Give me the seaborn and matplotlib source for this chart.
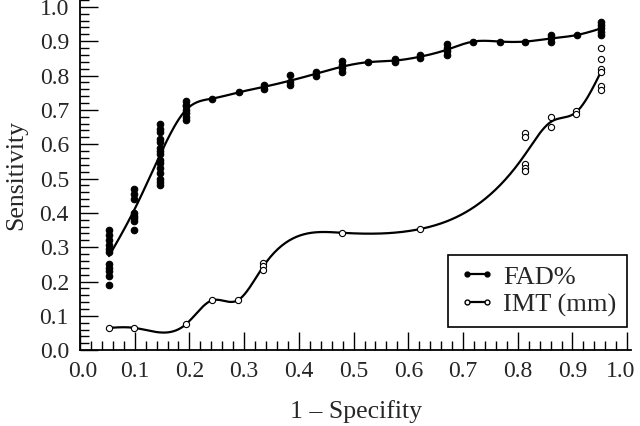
import numpy as np
import pandas as pd
import matplotlib
matplotlib.use('Agg')
import matplotlib.pyplot as plt
import matplotlib.transforms as mtransforms
from matplotlib.ticker import MultipleLocator
from matplotlib.lines import Line2D
import seaborn as sns

# ---- data ----
fad_x = [0.053] * 11 + [0.099] * 8 + [0.146] * 15 + [0.193] * 7 + [0.242, 0.290, 0.336, 0.336,
         0.384, 0.384, 0.384, 0.432, 0.432, 0.479, 0.479, 0.479, 0.479, 0.527, 0.575, 0.575,
         0.622, 0.622, 0.670, 0.670, 0.670, 0.670, 0.719, 0.767, 0.814, 0.861, 0.861, 0.861,
         0.908, 0.953, 0.953, 0.953, 0.953, 0.953]
fad_y = [0.350, 0.335, 0.320, 0.305, 0.295, 0.285, 0.250, 0.240, 0.230, 0.215, 0.190,
         0.470, 0.455, 0.440, 0.400, 0.390, 0.385, 0.375, 0.350,
         0.660, 0.645, 0.635, 0.615, 0.605, 0.590, 0.580, 0.570, 0.555, 0.545, 0.530, 0.515,
         0.500, 0.490, 0.480,
         0.725, 0.715, 0.710, 0.700, 0.690, 0.680, 0.670,
         0.733, 0.751, 0.773, 0.761, 0.802, 0.782, 0.771, 0.811, 0.800,
         0.841, 0.831, 0.821, 0.810, 0.839, 0.848, 0.839, 0.860, 0.850,
         0.891, 0.879, 0.870, 0.860, 0.899, 0.899, 0.899, 0.918, 0.909, 0.897,
         0.918, 0.957, 0.948, 0.937, 0.928, 0.918]

imt_x = [0.053, 0.099, 0.194, 0.241, 0.288, 0.335, 0.335, 0.335, 0.478, 0.622,
         0.813, 0.813, 0.813, 0.813, 0.813, 0.861, 0.861, 0.906, 0.906,
         0.953, 0.953, 0.953, 0.953, 0.953, 0.953]
imt_y = [0.065, 0.065, 0.076, 0.145, 0.145, 0.255, 0.245, 0.233, 0.342, 0.353,
         0.632, 0.620, 0.542, 0.532, 0.521, 0.680, 0.651, 0.697, 0.688,
         0.880, 0.847, 0.819, 0.810, 0.770, 0.758]

tick_vals = np.round(np.arange(0, 1.01, 0.1), 1)


def natural_spline(x, y, xs):
    # natural cubic spline through (x, y), evaluated at xs
    x = np.asarray(x, float); y = np.asarray(y, float)
    n = len(x)
    h = np.diff(x)
    A = np.zeros((n, n)); b = np.zeros(n)
    A[0, 0] = A[-1, -1] = 1
    for i in range(1, n - 1):
        A[i, i - 1] = h[i - 1]
        A[i, i] = 2 * (h[i - 1] + h[i])
        A[i, i + 1] = h[i]
        b[i] = 6 * ((y[i + 1] - y[i]) / h[i] - (y[i] - y[i - 1]) / h[i - 1])
    M = np.linalg.solve(A, b)
    idx = np.clip(np.searchsorted(x, xs) - 1, 0, n - 2)
    x0, x1 = x[idx], x[idx + 1]
    hh = x1 - x0
    t0, t1 = x1 - xs, xs - x0
    return (M[idx] * t0 ** 3 / (6 * hh) + M[idx + 1] * t1 ** 3 / (6 * hh)
            + (y[idx] / hh - M[idx] * hh / 6) * t0 + (y[idx + 1] / hh - M[idx + 1] * hh / 6) * t1)


fad = pd.DataFrame({'x': fad_x, 'y': fad_y})
imt = pd.DataFrame({'x': imt_x, 'y': imt_y})

sns.set_style('ticks')
plt.rcParams['font.family'] = ['Liberation Serif', 'DejaVu Serif']

fig = plt.figure(figsize=(6.4, 4.26), dpi=100)
ax = fig.add_axes([0.125, 0.178, 0.861, 0.822])

for df, face in [(fad, 'black'), (imt, 'white')]:
    m = df.groupby('x')['y'].mean()
    xs = np.linspace(m.index.min(), m.index.max(), 400)
    curve = pd.DataFrame({'x': xs, 'y': natural_spline(m.index.values, m.values, xs)})
    sns.lineplot(data=curve, x='x', y='y', ax=ax, color='black', lw=1.6, sort=False)
    sns.scatterplot(data=df, x='x', y='y', ax=ax, color=face, edgecolor='black',
                    linewidth=0.8, s=22 if face == 'black' else 20, zorder=3)

ax.set_xlim(0, 1.007)
ax.set_ylim(0, 1.02)
ax.set_xticks(tick_vals)
ax.set_yticks(tick_vals)
ax.set_xticklabels([f'{v:.1f}' for v in tick_vals])
ax.set_yticklabels([f'{v:.1f}' for v in tick_vals])
ax.xaxis.set_minor_locator(MultipleLocator(0.02))
ax.yaxis.set_minor_locator(MultipleLocator(0.02))
ax.tick_params(which='major', direction='in', length=13, width=1, labelsize=17, pad=8, color='black')
ax.tick_params(which='minor', direction='in', length=6.5, width=1, color='black')
sns.despine(ax=ax)
for s in ['left', 'bottom']:
    ax.spines[s].set_linewidth(1.3)
    ax.spines[s].set_color('black')

# nudge the end labels inward like the original
for lab in ax.get_xticklabels():
    dx = {'0.0': 3, '1.0': -7}.get(lab.get_text(), 0)
    if dx:
        lab.set_transform(lab.get_transform() + mtransforms.Affine2D().translate(dx, 0))

ax.set_xlabel('1 – Specifity', fontsize=18.5, labelpad=13)
ax.set_ylabel('Sensitivity', fontsize=18.5, labelpad=9)

handles = [Line2D([], [], color='black', linewidth=1.6, marker='o', markersize=3.5,
                  markerfacecolor='black', markeredgecolor='black'),
           Line2D([], [], color='black', linewidth=1.6, marker='o', markersize=3.5,
                  markerfacecolor='white', markeredgecolor='black')]
leg = ax.legend(handles, ['FAD%', 'IMT (mm)'], loc='lower right', bbox_to_anchor=(0.992, 0.066),
                fontsize=19, numpoints=2, handlelength=1.36, handletextpad=0.3,
                frameon=True, fancybox=False, framealpha=1, borderpad=0.4, labelspacing=0.15,
                borderaxespad=0)
leg.get_frame().set_edgecolor('black')
leg.get_frame().set_linewidth(1.2)

fig.savefig('out.png', dpi=100)
